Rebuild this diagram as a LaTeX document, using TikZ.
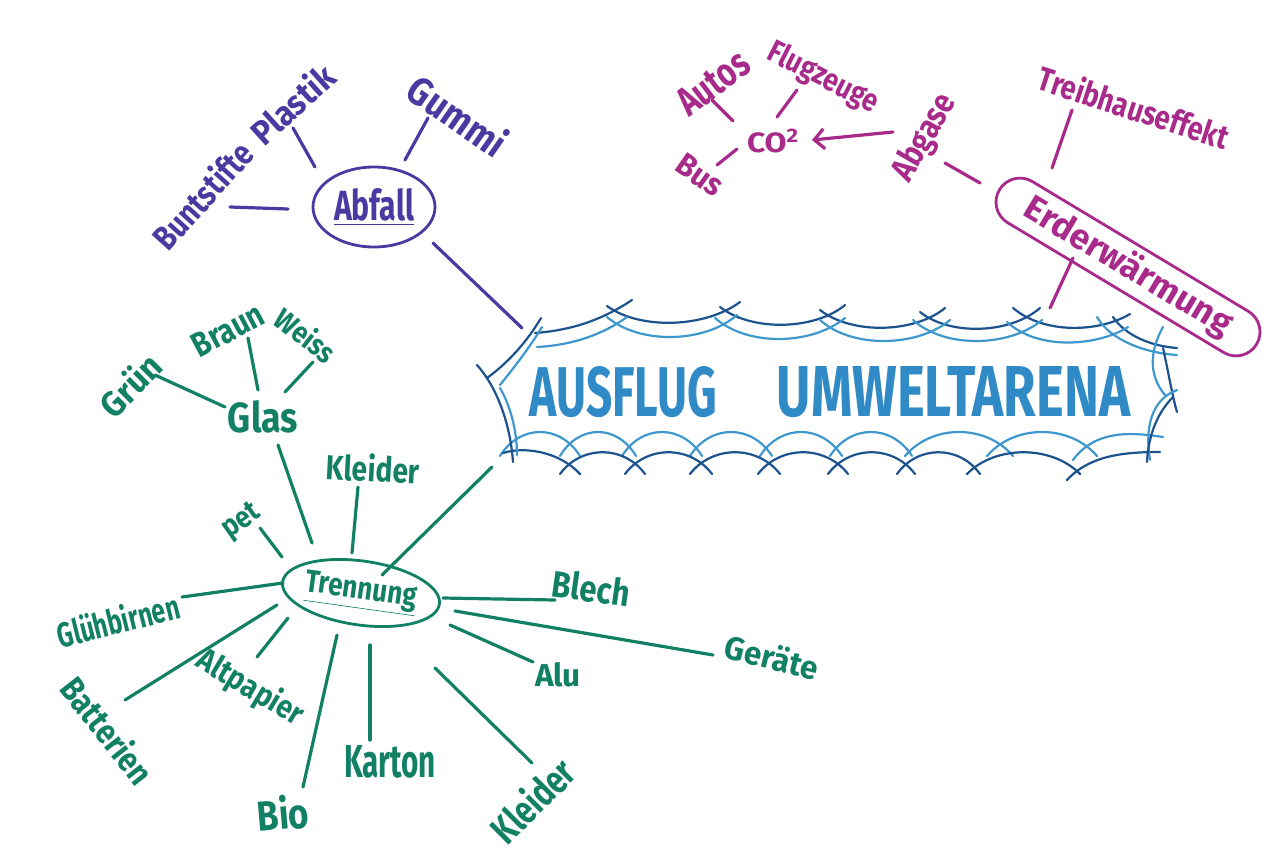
\documentclass[tikz,border=0pt]{standalone}
\usepackage{graphicx}
\usepackage{fontspec}
\setmainfont{Fira Sans}
\usetikzlibrary{calc,shapes.geometric,arrows.meta}
\definecolor{abf}{RGB}{72,58,160}
\definecolor{erd}{RGB}{168,42,138}
\definecolor{grn}{RGB}{18,128,100}
\definecolor{bl}{RGB}{62,152,205}
\definecolor{bd}{RGB}{28,82,142}
\definecolor{bt}{RGB}{48,138,198}
\newcommand\fitwh[3]{\resizebox{#1pt}{#2pt}{#3}}
\begin{document}
\begin{tikzpicture}[x=1pt,y=-1pt,
  lab/.style={inner sep=0pt, font=\fontsize{20}{24}\selectfont\bfseries},
  con/.style={line width=3.2pt, line cap=round},
  bdl/.style={draw=bd, line width=2.2pt, line cap=round},
  bll/.style={draw=bl, line width=2.2pt, line cap=round},
  hub/.style={draw, line width=2.8pt}]
\fill[white] (0,0) rectangle (1271,854);
\useasboundingbox (0,0) rectangle (1271,854);

% ---------- central frame ----------
% top dark garlands
\draw[bdl] (535,333) .. controls (575,330) and (605,318) .. (632,300);
\draw[bdl] (607,306) .. controls (640,330) and (705,328) .. (740,302);
\draw[bdl] (720,307) .. controls (752,332) and (815,330) .. (845,305);
\draw[bdl] (820,310) .. controls (852,335) and (915,333) .. (945,308);
\draw[bdl] (920,312) .. controls (950,336) and (1010,334) .. (1040,308);
\draw[bdl] (1013,308) .. controls (1045,335) and (1100,332) .. (1130,314);
\draw[bdl] (1113,317) .. controls (1125,335) and (1150,346) .. (1177,348);
% top light garlands
\draw[bll] (537,347) .. controls (575,345) and (605,333) .. (627,317);
\draw[bll] (607,317) .. controls (640,345) and (705,343) .. (737,315);
\draw[bll] (715,318) .. controls (748,347) and (812,345) .. (845,318);
\draw[bll] (820,320) .. controls (852,349) and (918,347) .. (950,320);
\draw[bll] (913,320) .. controls (945,349) and (1010,347) .. (1042,320);
\draw[bll] (1007,322) .. controls (1040,352) and (1100,345) .. (1128,327);
\draw[bll] (1097,317) .. controls (1110,340) and (1145,353) .. (1177,355);
% bottom light bumps
\foreach \a/\b in {500/580, 560/636, 622/702, 690/772, 760/842, 830/912, 905/1013, 987/1097}
  \draw[bll] (\a,456) .. controls ({\a+0.25*(\b-\a)},424) and ({\b-0.25*(\b-\a)},424) .. (\b,456);
\draw[bll] (1073,460) .. controls (1095,430) and (1130,432) .. (1163,437);
% bottom dark bumps
\draw[bdl] (503,453) .. controls (525,446) and (560,452) .. (580,474);
\foreach \a/\b in {560/645, 625/712, 690/780, 758/848, 828/915, 897/980, 967/1080}
  \draw[bdl] (\a,474) .. controls ({\a+0.25*(\b-\a)},445) and ({\b-0.25*(\b-\a)},445) .. (\b,474);
\draw[bdl] (1067,480) .. controls (1090,455) and (1125,452) .. (1160,452);
% left side
\draw[bdl] (541,318) .. controls (525,345) and (505,365) .. (487,378);
\draw[bdl] (477,365) .. controls (495,385) and (510,420) .. (513,462);
\draw[bll] (542,327) .. controls (528,350) and (512,370) .. (500,385);
\draw[bll] (500,388) .. controls (510,405) and (517,430) .. (517,455);
% right side
\draw[bll] (1163,327) .. controls (1150,350) and (1148,375) .. (1165,395);
\draw[bdl] (1163,348) .. controls (1168,370) and (1172,395) .. (1177,412);
\draw[bll] (1177,390) .. controls (1150,400) and (1145,430) .. (1150,460);
\draw[bdl] (1173,397) .. controls (1155,415) and (1148,440) .. (1147,462);

\node[inner sep=0pt, text=bt, font=\bfseries] (main) at (830,392)
  {\fitwh{187}{50}{AUSFLUG}\hspace{60pt}\fitwh{353}{50}{UMWELTARENA}};

% ---------- Abfall ----------
\node[lab, hub, abf, text=abf, ellipse, minimum width=122pt, minimum height=80pt] (abfall) at (374,207) {\fitwh{80}{32}{\underline{Abfall}}};
\node[lab, text=abf, rotate=48] (bunt) at (202,195) {\fitwh{130}{28}{Buntstifte}};
\node[lab, text=abf, rotate=42] (plastik) at (292,104) {\fitwh{100}{28}{Plastik}};
\node[lab, text=abf, rotate=-35] (gummi) at (458,115) {\fitwh{110}{32}{Gummi}};
\draw[con,abf] ($(abfall)+(-86,2)$) -- ($(bunt)+(28,12)$);
\draw[con,abf] ($(abfall)+(-59,-40)$) -- ($(plastik)+(1,24)$);
\draw[con,abf] ($(abfall)+(31,-47)$) -- ($(gummi)+(-30,3)$);
\draw[con,abf] ($(abfall)+(59,36)$) -- ($(main)+(-308,-64)$);

% ---------- Erderwaermung ----------
\node[lab, hub, erd, text=erd, rounded corners=24pt, minimum width=300pt, minimum height=48pt, rotate=-31] (erd) at (1128,267) {\fitwh{236}{28}{Erderwärmung}};
\node[lab, text=erd, rotate=-18] (treib) at (1134,107) {\fitwh{198}{27}{Treibhauseffekt}};
\node[lab, text=erd, rotate=60] (abgase) at (925,138) {\fitwh{95}{26}{Abgase}};
\node[lab, text=erd] (co2) at (773,141) {\fitwh{52}{24}{CO\textsuperscript{2}}};
\node[lab, text=erd, rotate=37] (autos) at (713,83) {\fitwh{80}{28}{Autos}};
\node[lab, text=erd, rotate=-27] (flug) at (823,78) {\fitwh{120}{24}{Flugzeuge}};
\node[lab, text=erd, rotate=-35] (bus) at (700,175) {\fitwh{50}{22}{Bus}};
\draw[con,erd] ($(treib)+(-62,3)$) -- ($(erd)+(-76,-99)$);
\draw[con,erd] ($(abgase)+(20,25)$) -- ($(erd)+(-148,-84)$);
\draw[con,erd,-{Straight Barb[length=10pt,width=20pt]}] ($(abgase)+(-32,-6)$) -- ($(co2)+(39,-1)$);
\draw[con,erd] ($(erd)+(-55,-9)$) -- ($(main)+(220,-84)$);
\draw[con,erd] ($(autos)+(-1,17)$) -- ($(co2)+(-40,-20)$);
\draw[con,erd] ($(flug)+(-26,12)$) -- ($(co2)+(4,-24)$);
\draw[con,erd] ($(bus)+(17,-10)$) -- ($(co2)+(-36,8)$);

% ---------- Trennung ----------
\node[lab, hub, grn, text=grn, ellipse, minimum width=152pt, minimum height=64pt, rotate=-8] (trenn) at (361,593) {\fitwh{112}{22}{\underline{Trennung}}};
\node[lab, text=grn] (glas) at (263,417) {\fitwh{70}{32}{Glas}};
\node[lab, text=grn, rotate=45] (gruen) at (130,385) {\fitwh{72}{28}{Grün}};
\node[lab, text=grn, rotate=28] (braun) at (228,330) {\fitwh{76}{24}{Braun}};
\node[lab, text=grn, rotate=-38] (weiss) at (306,335) {\fitwh{68}{24}{Weiss}};
\node[lab, text=grn, rotate=-3] (kleidA) at (373,468) {\fitwh{93}{28}{Kleider}};
\node[lab, text=grn, rotate=35] (pet) at (242,522) {\fitwh{40}{20}{pet}};
\node[lab, text=grn, rotate=14] (glueh) at (118,620) {\fitwh{125}{28}{Glühbirnen}};
\node[lab, text=grn, rotate=-52] (batt) at (108,730) {\fitwh{125}{28}{Batterien}};
\node[lab, text=grn, rotate=-31] (altp) at (250,688) {\fitwh{118}{26}{Altpapier}};
\node[lab, text=grn, rotate=5] (bio) at (283,813) {\fitwh{52}{34}{Bio}};
\node[lab, text=grn] (karton) at (390,762) {\fitwh{92}{32}{Karton}};
\node[lab, text=grn, rotate=45] (kleidB) at (532,800) {\fitwh{100}{32}{Kleider}};
\node[lab, text=grn] (alu) at (558,675) {\fitwh{46}{24}{Alu}};
\node[lab, text=grn, rotate=-14] (geraete) at (772,657) {\fitwh{95}{26}{Geräte}};
\node[lab, text=grn, rotate=-8] (blech) at (591,588) {\fitwh{78}{28}{Blech}};
\draw[con,grn] ($(gruen)+(25,-10)$) -- ($(glas)+(-38,-10)$);
\draw[con,grn] ($(braun)+(20,8)$) -- ($(glas)+(-5,-27)$);
\draw[con,grn] ($(weiss)+(7,27)$) -- ($(glas)+(22,-25)$);
\draw[con,grn] ($(glas)+(15,28)$) -- ($(trenn)+(-49,-50)$);
\draw[con,grn] ($(kleidA)+(-15,19)$) -- ($(trenn)+(-9,-40)$);
\draw[con,grn] ($(pet)+(18,6)$) -- ($(trenn)+(-79,-36)$);
\draw[con,grn] ($(trenn)+(21,-18)$) -- ($(main)+(-338,75)$);
\draw[con,grn] ($(glueh)+(64,-23)$) -- ($(trenn)+(-78,-10)$);
\draw[con,grn] ($(batt)+(17,-30)$) -- ($(trenn)+(-84,12)$);
\draw[con,grn] ($(altp)+(7,-31)$) -- ($(trenn)+(-73,25)$);
\draw[con,grn] ($(bio)+(20,-26)$) -- ($(trenn)+(-24,42)$);
\draw[con,grn] ($(karton)+(-20,-22)$) -- ($(trenn)+(9,52)$);
\draw[con,grn] ($(kleidB)+(0,-37)$) -- ($(trenn)+(74,75)$);
\draw[con,grn] ($(alu)+(-25,-13)$) -- ($(trenn)+(89,32)$);
\draw[con,grn] ($(geraete)+(-59,-2)$) -- ($(trenn)+(94,18)$);
\draw[con,grn] ($(blech)+(-36,12)$) -- ($(trenn)+(82,5)$);
\end{tikzpicture}
\end{document}
